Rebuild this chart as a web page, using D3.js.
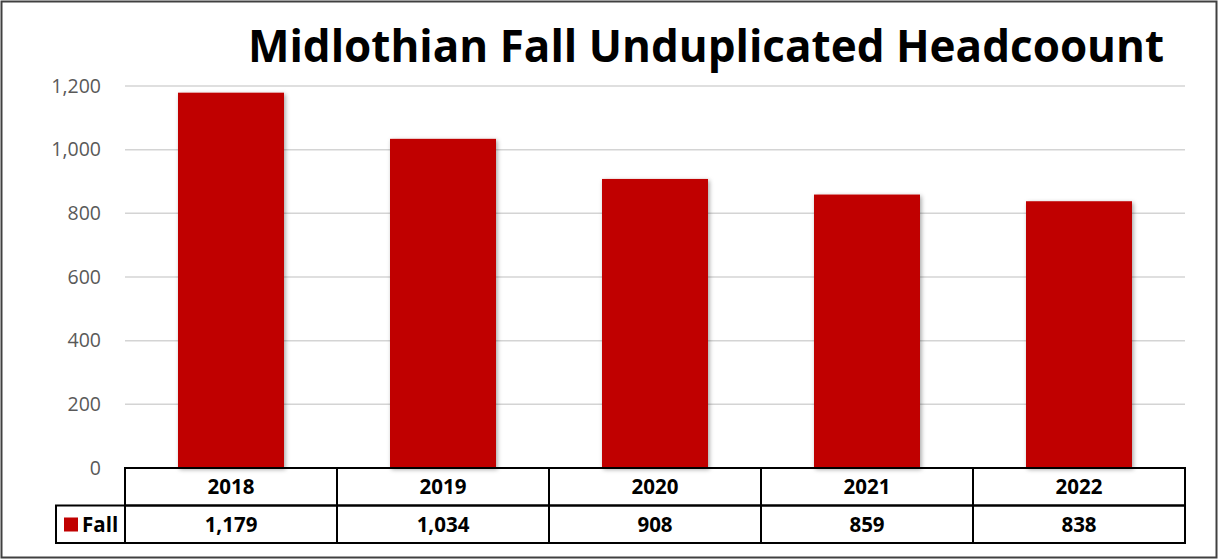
<!DOCTYPE html>
<html>
<head>
<meta charset="utf-8">
<script src="https://cdn.jsdelivr.net/npm/d3@7"></script>
<style>
  body { margin: 0; background: #fff; }
  text { font-family: "Open Sans", "Liberation Sans", sans-serif; }
</style>
</head>
<body>
<svg id="chart"></svg>
<script>
const years = ['2018', '2019', '2020', '2021', '2022'];
const fallValues = [1179, 1034, 908, 859, 838];
const yTicks = [0, 200, 400, 600, 800, 1000, 1200];
const seriesName = 'Fall';
const title = 'Midlothian Fall Unduplicated Headcoount';

const width = 1221, height = 560;
const margin = { top: 86, right: 36, bottom: 92, left: 125 };
const innerW = width - margin.left - margin.right;
const innerH = height - margin.top - margin.bottom;
const rowH = 37.5;
const barColor = '#c00000';

const svg = d3.select('#chart')
    .attr('width', width)
    .attr('height', height);

// drop shadow for bars
const defs = svg.append('defs');
const filter = defs.append('filter').attr('id', 'shadow')
    .attr('x', '-10%').attr('y', '-10%').attr('width', '130%').attr('height', '130%');
filter.append('feDropShadow')
    .attr('dx', 1.5).attr('dy', 1.5).attr('stdDeviation', 2)
    .attr('flood-color', '#000').attr('flood-opacity', 0.35);

// outer frame
svg.append('rect')
    .attr('x', 1.5).attr('y', 1.5)
    .attr('width', 1215).attr('height', 556)
    .attr('fill', 'none')
    .attr('stroke', '#404040')
    .attr('stroke-width', 2);

svg.append('text')
    .attr('x', 706)
    .attr('y', 62)
    .attr('text-anchor', 'middle')
    .attr('font-size', 44)
    .attr('font-weight', 'bold')
    .attr('fill', '#000')
    .text(title);

const chart = svg.append('g')
    .attr('transform', `translate(${margin.left},${margin.top})`);

const x = d3.scaleBand().domain(years).range([0, innerW]).paddingInner(0).paddingOuter(0);
const y = d3.scaleLinear().domain([0, 1200]).range([innerH, 0]);

// gridlines
chart.selectAll('.grid')
    .data(yTicks.filter(d => d > 0))
    .join('line')
    .attr('class', 'grid')
    .attr('x1', 0).attr('x2', innerW)
    .attr('y1', d => y(d)).attr('y2', d => y(d))
    .attr('stroke', '#d4d4d4')
    .attr('stroke-width', 1.5);

// y axis labels
const yAxis = d3.axisLeft(y)
    .tickValues(yTicks)
    .tickFormat(d3.format(','))
    .tickSize(0)
    .tickPadding(24);

chart.append('g')
    .attr('class', 'y-axis')
    .call(yAxis)
    .call(g => g.select('.domain').remove())
    .call(g => g.selectAll('text')
        .attr('font-size', 19.5)
        .attr('fill', '#595959')
        .style('font-family', '"Open Sans", sans-serif'));

// bars
const barW = x.bandwidth() * 0.5;
chart.selectAll('.bar')
    .data(fallValues)
    .join('rect')
    .attr('class', 'bar')
    .attr('x', (d, i) => x(years[i]) + (x.bandwidth() - barW) / 2)
    .attr('y', d => y(d))
    .attr('width', barW)
    .attr('height', d => innerH - y(d))
    .attr('fill', barColor)
    .attr('filter', 'url(#shadow)');

// data table
const table = chart.append('g')
    .attr('transform', `translate(0,${innerH})`);

const legendW = 69;
const lineStyle = sel => sel.attr('stroke', '#000').attr('stroke-width', 2).attr('fill', 'none');

// header row and value row cells
table.selectAll('.head-cell')
    .data(years)
    .join('rect')
    .attr('class', 'head-cell')
    .attr('x', d => x(d)).attr('y', 0)
    .attr('width', x.bandwidth()).attr('height', rowH)
    .call(lineStyle);

table.selectAll('.val-cell')
    .data(years)
    .join('rect')
    .attr('class', 'val-cell')
    .attr('x', d => x(d)).attr('y', rowH)
    .attr('width', x.bandwidth()).attr('height', rowH)
    .call(lineStyle);

table.append('rect')
    .attr('x', -legendW).attr('y', rowH)
    .attr('width', legendW).attr('height', rowH)
    .call(lineStyle);

table.selectAll('.head-text')
    .data(years)
    .join('text')
    .attr('class', 'head-text')
    .attr('x', d => x(d) + x.bandwidth() / 2)
    .attr('y', rowH / 2 + 7.5)
    .attr('text-anchor', 'middle')
    .attr('font-size', 20.5)
    .attr('font-weight', 'bold')
    .text(d => d);

table.selectAll('.val-text')
    .data(fallValues)
    .join('text')
    .attr('class', 'val-text')
    .attr('x', (d, i) => x(years[i]) + x.bandwidth() / 2)
    .attr('y', rowH * 1.5 + 7.5)
    .attr('text-anchor', 'middle')
    .attr('font-size', 20.5)
    .attr('font-weight', 'bold')
    .text(d => d3.format(',')(d));

// legend key
table.append('rect')
    .attr('x', -legendW + 8).attr('y', rowH + 12)
    .attr('width', 14).attr('height', 14)
    .attr('fill', barColor);

table.append('text')
    .attr('x', -legendW + 26).attr('y', rowH * 1.5 + 7.5)
    .attr('font-size', 20.5)
    .attr('font-weight', 'bold')
    .text(seriesName);
</script>
</body>
</html>
